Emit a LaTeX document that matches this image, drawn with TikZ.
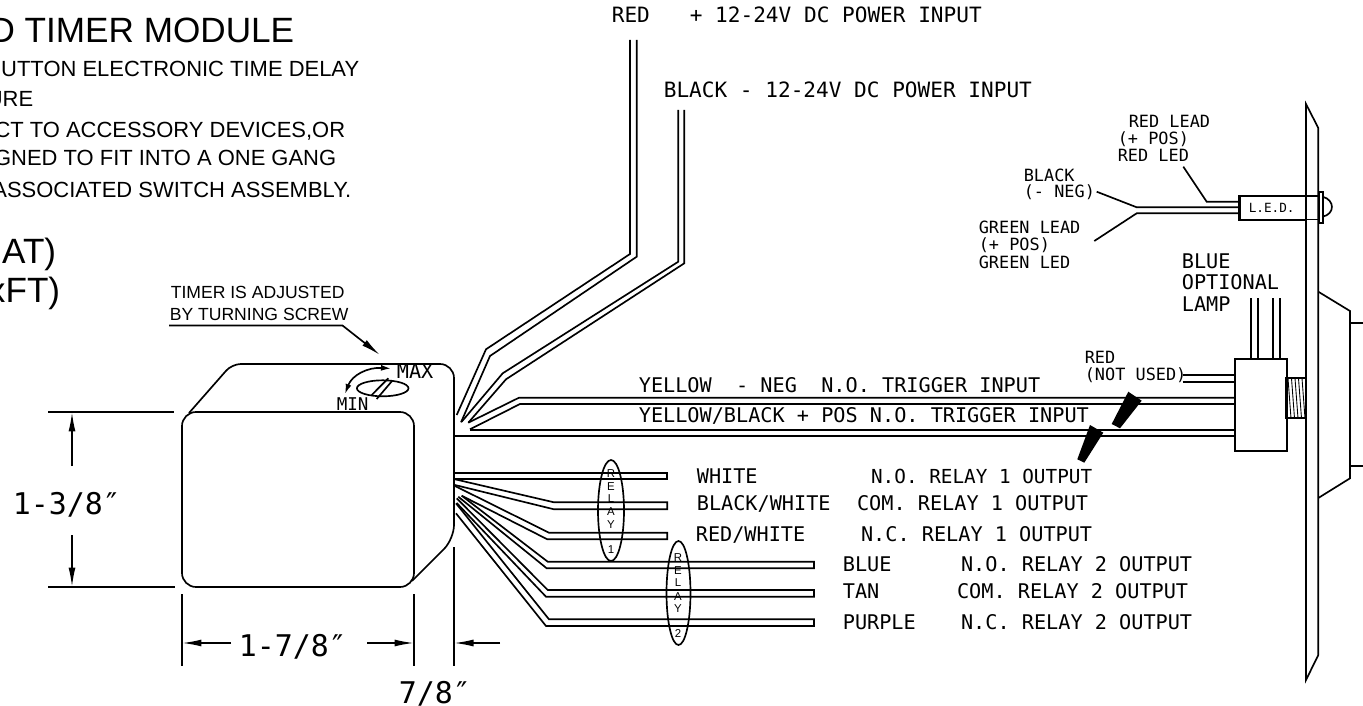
\documentclass[tikz,border=0pt]{standalone}
\usepackage{fontspec}
\setmainfont{Liberation Sans}
\newfontfamily\cadfont{DejaVu Sans Mono}
\usetikzlibrary{arrows.meta}

\begin{document}
\begin{tikzpicture}[x=0.02cm,y=-0.02cm,line width=0.95pt]
        \tikzset{dimedge/.style = {-{Latex[length=3.9mm,width=1.4mm]}}}
        \tikzset{lbl/.style = {anchor=base west,inner sep=0pt,font=\cadfont\fontsize{11.5pt}{13pt}\selectfont}}
        \tikzset{toplbl/.style = {lbl,font=\cadfont\fontsize{12pt}{13pt}\selectfont}}
        \tikzset{smalllbl/.style = {lbl,font=\cadfont\fontsize{9.6pt}{11pt}\selectfont}}
        \tikzset{funclbl/.style = {lbl,anchor=base east}}
        \tikzset{dimlbl/.style = {lbl,font=\cadfont\fontsize{17pt}{19pt}\selectfont}}
        \tikzset{headlbl/.style = {anchor=base east,inner sep=0pt,font=\fontsize{12.5pt}{14pt}\selectfont}}
        \tikzset{relaylbl/.style = {inner sep=0pt,font=\fontsize{6.5pt}{7pt}\selectfont}}

        \useasboundingbox (0,0) rectangle (1363,706);
        \clip (0,0) rectangle (1363,706);

        % heading
        \node[headlbl,font=\fontsize{20pt}{22pt}\selectfont] (title) at (295,43) {D TIMER MODULE};
        \node[headlbl] (head1) at (360,77) {UTTON ELECTRONIC TIME DELAY};
        \node[headlbl] (head2) at (34,107) {URE};
        \node[headlbl] (head3) at (346,137) {CT TO ACCESSORY DEVICES,OR};
        \node[headlbl] (head4) at (337,166) {GNED TO FIT INTO A ONE GANG};
        \node[headlbl] (head5) at (352,197) {ASSOCIATED SWITCH ASSEMBLY.};
        \node[headlbl,font=\fontsize{20pt}{22pt}\selectfont] (spec1) at (57,263) {AT)};
        \node[headlbl,font=\fontsize{20pt}{22pt}\selectfont] (spec2) at (61,302) {xFT)};

        % screw note
        \node[anchor=base west,inner sep=0pt,font=\fontsize{10pt}{12pt}\selectfont] (note1) at (170,298) {TIMER IS ADJUSTED};
        \node[anchor=base west,inner sep=0pt,font=\fontsize{10pt}{12pt}\selectfont] (note2) at (169,320) {BY TURNING SCREW};
        \coordinate (notetip) at (380,355);
        \draw[dimedge] (169,325.5) -- (342.5,325.5) -- (notetip);

        % module
        \draw[rounded corners=8pt] (182,412) rectangle (414,587);
        \draw[rounded corners=5pt] (189,413) -- (232,364) [rounded corners=8pt] -- (454,364) -- (454,539) [rounded corners=5pt] -- (412,581);

        % screw
        \draw (382.7,388.3) ellipse [x radius=25.8,y radius=8];
        \draw (371.7,395) -- (388.3,378.3);
        \draw (376.7,399) -- (392.3,380.7);
        \coordinate (maxtip) at (391,368.5);
        \coordinate (mintip) at (345,394);
        \draw[{Latex[length=2mm,width=1.2mm]}-{Latex[length=2mm,width=1.2mm]}] (mintip) .. controls (352,375) and (368,367) .. (maxtip);
        \node[lbl] (maxlbl) at (396,378) {MAX};
        \node[lbl,font=\cadfont\fontsize{10pt}{11pt}\selectfont] (minlbl) at (336,410) {MIN};

        % height
        \draw (48,412) -- (174,412);
        \draw (48,587) -- (175,587);
        \coordinate (hightop) at (72,412);
        \coordinate (highbot) at (72,587);
        \draw[dimedge] (72,466) -- (hightop);
        \draw[dimedge] (72,535) -- (highbot);
        \node[dimlbl] (dimh) at (12,514) {1-3/8″};

        % widths
        \draw (182,594) -- (182,666);
        \draw (414,594) -- (414,666);
        \draw (454,547) -- (454,666);
        \coordinate (widl) at (182,643);
        \coordinate (widr) at (414,643);
        \coordinate (depr) at (454,643);
        \draw[dimedge] (231,643) -- (widl);
        \draw[dimedge] (367,643) -- (widr);
        \draw[dimedge] (500,643) -- (depr);
        \node[dimlbl] (dimw) at (238,656) {1-7/8″};
        \node[dimlbl] (dimd) at (398,703) {7/8″};

        % power wires
        \draw (456.7,415) -- (486,349.3) -- (630,254) -- (630,40);
        \draw (461,422.3) -- (490,356) -- (636.7,256.7) -- (636.7,40);
        \draw (461.7,421.7) -- (502.7,373.3) -- (678.3,261.7) -- (678.3,110);
        \draw (468.3,422.7) -- (506,379.3) -- (684.3,263.3) -- (684.3,110);
        \node[toplbl] (redlbl) at (611,23) {RED};
        \node[toplbl] (redpwr) at (689,23) {+ 12-24V DC POWER INPUT};
        \node[toplbl] (blkpwr) at (663,98) {BLACK - 12-24V DC POWER INPUT};

        % trigger wires
        \draw (468.3,422.7) -- (519,397.7) -- (1235,397.7);
        \draw (470,429.3) -- (520,404) -- (1235,404);
        \draw (470,430) -- (1235,430);
        \draw (454,436) -- (1235,436);
        \node[lbl] (trig1) at (638,392) {YELLOW\ \ - NEG\ \ N.O. TRIGGER INPUT};
        \node[lbl] (trig2) at (638,422) {YELLOW/BLACK + POS N.O. TRIGGER INPUT};
        \fill (1128.3,391.7) -- (1141.7,400.7) -- (1120,428.3) -- (1111.7,424) -- cycle;
        \fill (1090,425) -- (1103.3,432.7) -- (1084.3,462.7) -- (1077.3,459.3) -- cycle;

        % relay 1 wires
        \draw (455,472.7) -- (667.3,472.7) -- (667.3,479) -- (455,479);
        \draw (455,479.3) -- (554,502.3) -- (667.3,502.3) -- (667.3,509.3) -- (554,509.3) -- (455,485);
        \draw (455,486) -- (549,532.7) -- (667.3,532.7) -- (667.3,539.3) -- (547.3,539.3) -- (461.7,495.7);
        \draw (611,510.5) ellipse [x radius=13,y radius=50.5];
        \foreach \ltr/\ly in {R/474,E/487,L/499,A/512,Y/525,1/550}
                \node[relaylbl] (rone\ly) at (611,\ly) {\ltr};

        % relay 2 wires
        \draw (461.7,495.7) -- (547.7,561.7) -- (814,561.7) -- (814,568.3) -- (546.7,568.3) -- (458.3,496.7);
        \draw (456.7,498.3) -- (547.7,590) -- (814,590) -- (814,596.7) -- (546,596.7) -- (456.7,503);
        \draw (456,503.3) -- (549,619.3) -- (814,619.3) -- (814,626) -- (546,626) -- (456,513.3);
        \draw (678.5,593) ellipse [x radius=12,y radius=52];
        \foreach \ltr/\ly in {R/558,E/571,L/583,A/597,Y/609,2/634}
                \node[relaylbl] (rtwo\ly) at (678,\ly) {\ltr};

        % wire colours
        \node[lbl] (white) at (696,483) {WHITE};
        \node[lbl] (blkwht) at (696,510) {BLACK/WHITE};
        \node[lbl] (redwht) at (695,541) {RED/WHITE};
        \node[lbl] (blue) at (842,571) {BLUE};
        \node[lbl] (tan) at (842,598) {TAN};
        \node[lbl] (purple) at (842,629) {PURPLE};

        % wire functions
        \node[funclbl,font=\cadfont\fontsize{11pt}{13pt}\selectfont] (func1) at (1093,483) {N.O. RELAY 1 OUTPUT};
        \node[funclbl] (func2) at (1089,510) {COM. RELAY 1 OUTPUT};
        \node[funclbl] (func3) at (1093,541) {N.C. RELAY 1 OUTPUT};
        \node[funclbl] (func4) at (1193,571) {N.O. RELAY 2 OUTPUT};
        \node[funclbl] (func5) at (1189,598) {COM. RELAY 2 OUTPUT};
        \node[funclbl] (func6) at (1193,629) {N.C. RELAY 2 OUTPUT};

        % panel
        \draw (1306,104) -- (1318.3,128) -- (1318.3,655) -- (1306,680) -- cycle;
        \draw (1318.3,291.7) -- (1350,311) -- (1350,478.3) -- (1318.3,498);
        \draw (1350,322.7) -- (1363,322.7);
        \draw (1350,466) -- (1363,466);

        % led
        \draw (1239.3,195.7) rectangle (1306,220);
        \draw[line width=1.4pt] (1239.3,195.7) -- (1239.3,220);
        \draw (1306,195.7) -- (1319.3,195.7);
        \draw (1306,219.5) -- (1319.3,219.5);
        \draw (1319.3,191.7) rectangle (1322.7,223.3);
        \draw (1322.7,196.7) .. controls (1335,200) and (1335,214) .. (1322.7,216.7);
        \node[lbl,font=\cadfont\fontsize{7.2pt}{8pt}\selectfont] (ledlbl) at (1248,213) {L.E.D.};
        \draw (1183.3,166.7) -- (1206.7,201.7) -- (1239.3,201.7);
        \draw (1096.7,191.7) -- (1136.7,207.3) -- (1239.3,207.3);
        \draw (1094.3,241) -- (1136.7,213.3) -- (1239.3,213.3);
        \node[smalllbl] (ledred1) at (1128,128) {RED LEAD};
        \node[smalllbl] (ledred2) at (1117,145) {(+ POS)};
        \node[smalllbl] (ledred3) at (1117,162) {RED LED};
        \node[smalllbl] (ledblk1) at (1023,181) {BLACK};
        \node[smalllbl] (ledblk2) at (1023,197) {(- NEG)};
        \node[smalllbl] (ledgrn1) at (978,234) {GREEN LEAD};
        \node[smalllbl] (ledgrn2) at (978,250) {(+ POS)};
        \node[smalllbl] (ledgrn3) at (978,268) {GREEN LED};

        % switch
        \draw (1235,359) rectangle (1286.7,451);
        \draw (1286,378.3) rectangle (1306,418.3);
        \foreach \tx in {1288,1291.5,1295,1298.5,1302}
                \draw[line width=0.5pt] (\tx,378.3) -- (\tx+3,418.3);
        \foreach \wx in {1251,1257.7,1273.3,1280}
                \draw (\wx,298.3) -- (\wx,359);
        \draw (1182.7,375) -- (1235,375);
        \draw (1182.7,381.7) -- (1235,381.7);
        \node[lbl] (lamp1) at (1181,268) {BLUE};
        \node[lbl] (lamp2) at (1181,289) {OPTIONAL};
        \node[lbl] (lamp3) at (1181,311) {LAMP};
        \node[smalllbl] (unused1) at (1084,363) {RED};
        \node[smalllbl] (unused2) at (1084,380) {(NOT USED)};

\end{tikzpicture}
\end{document}
